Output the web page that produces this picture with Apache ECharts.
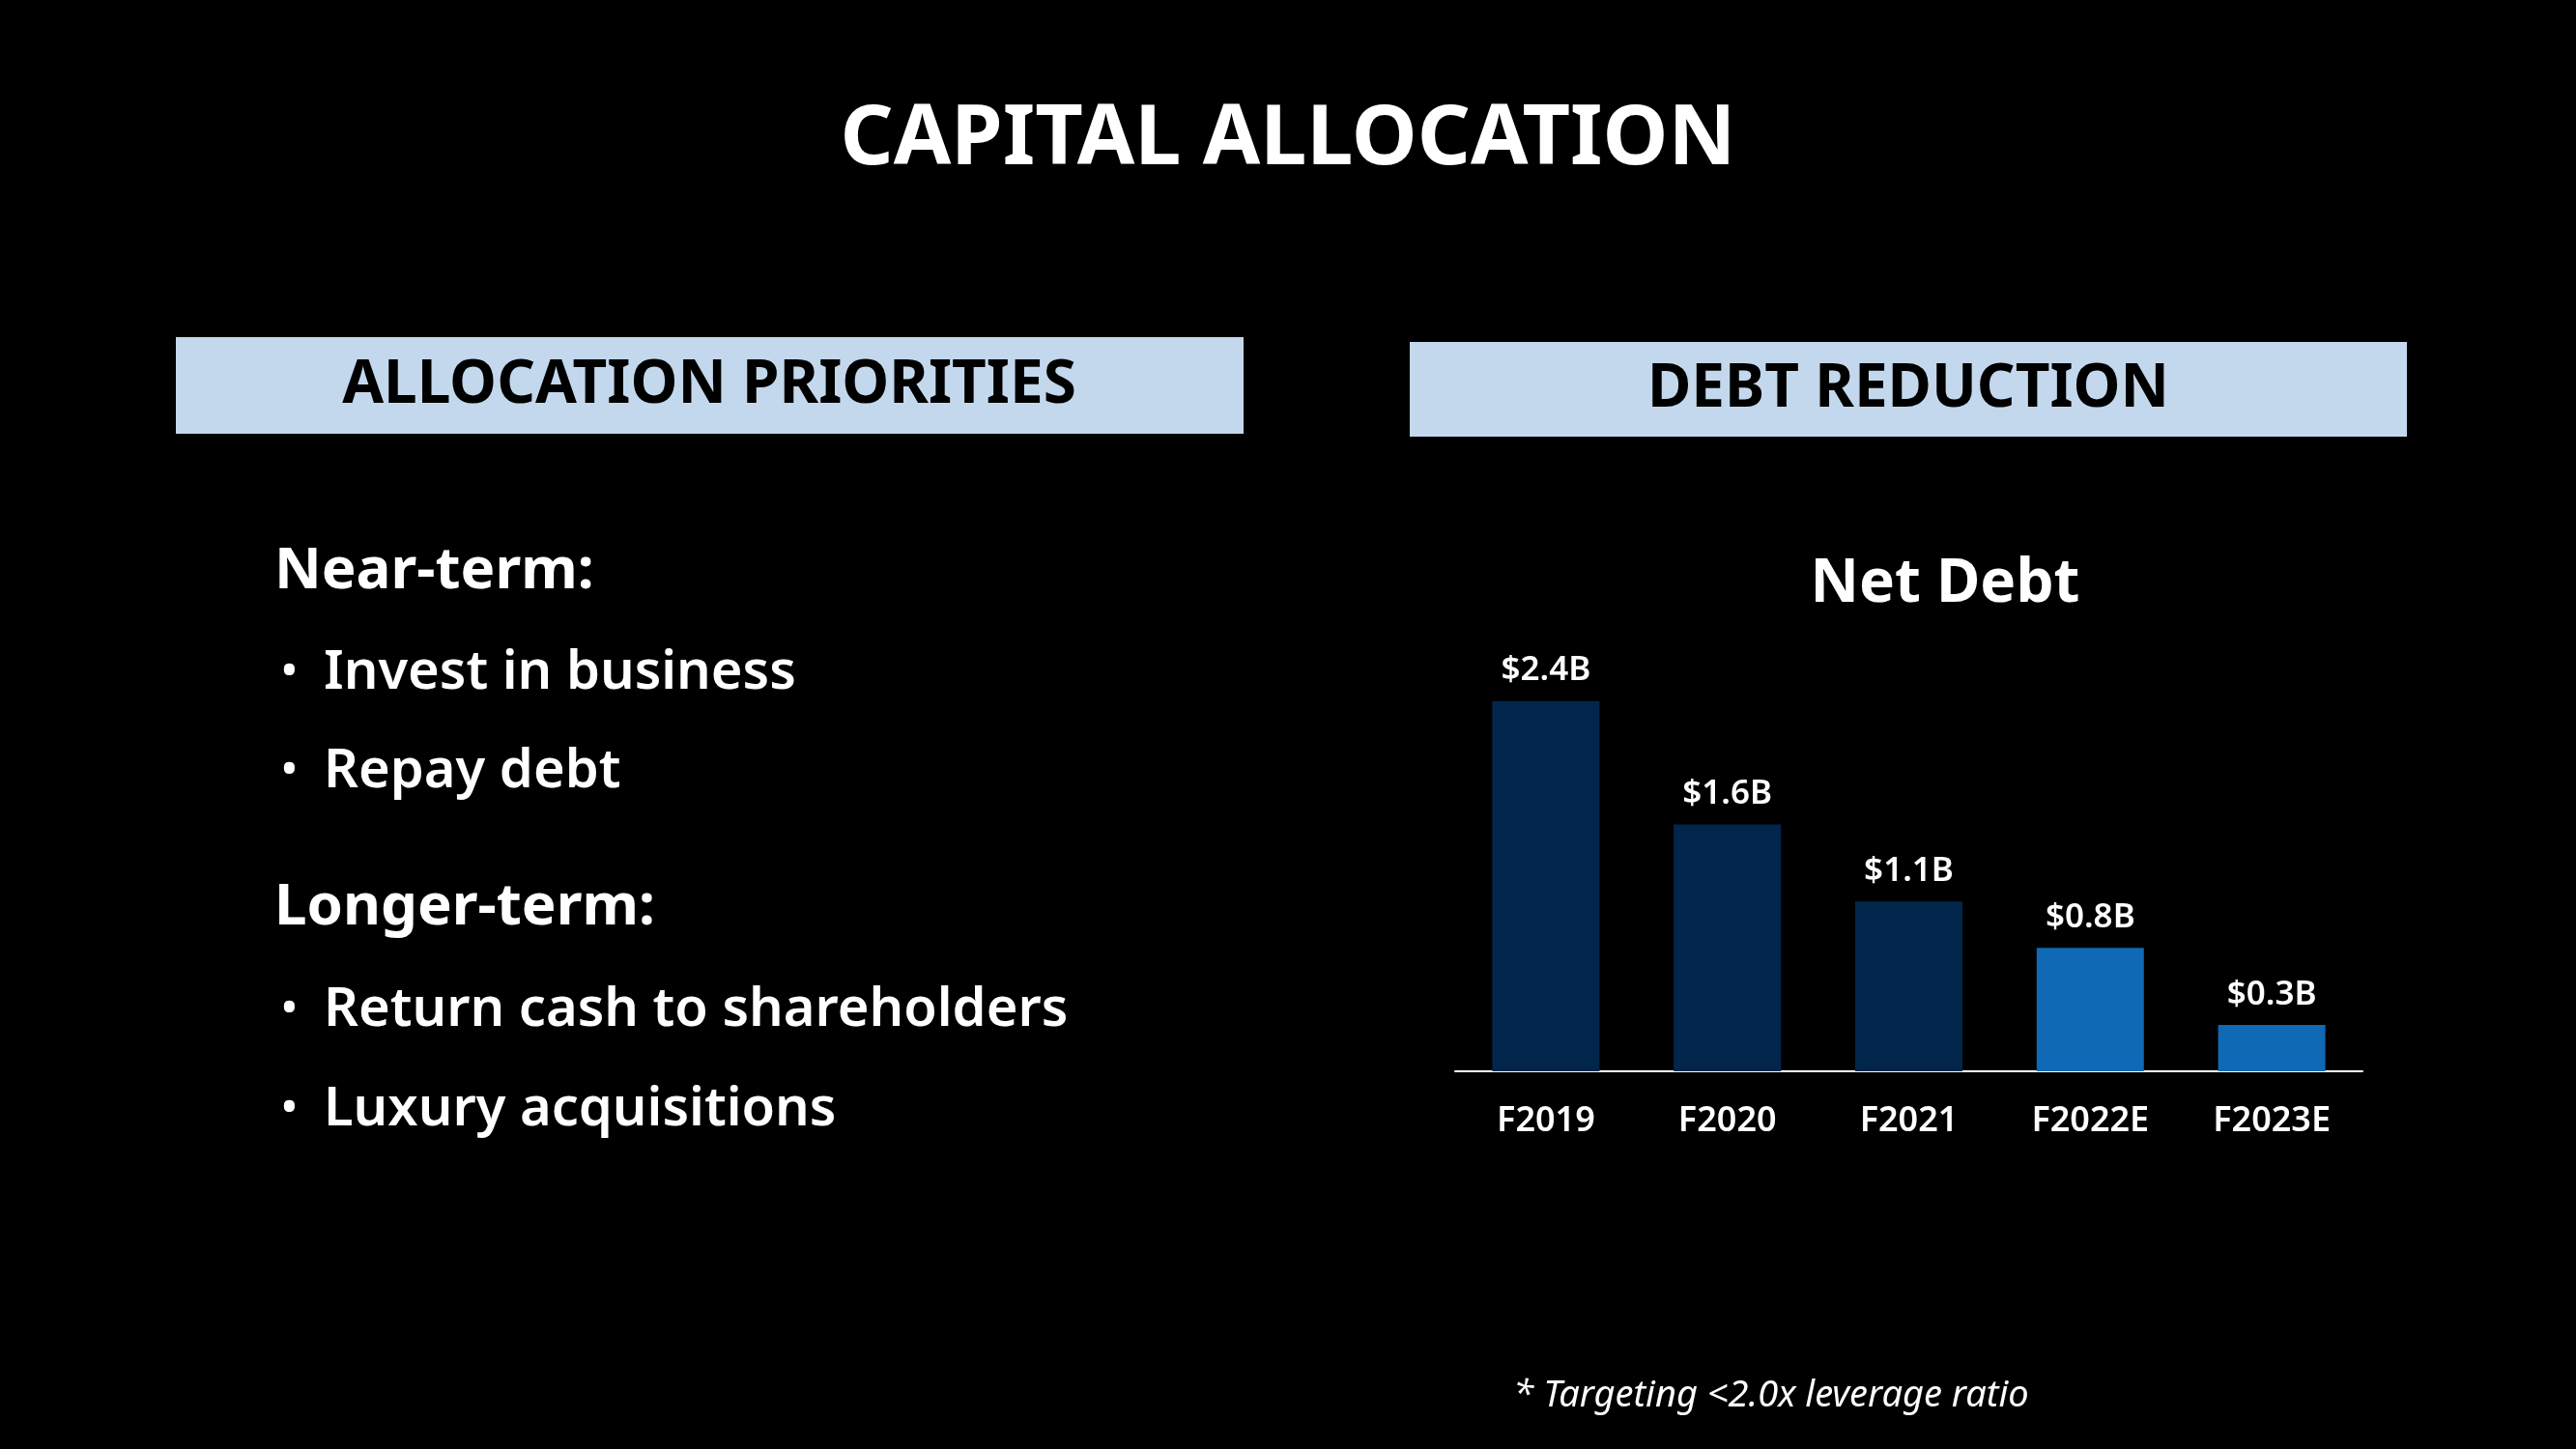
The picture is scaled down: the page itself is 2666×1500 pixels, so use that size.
<!DOCTYPE html>
<html>
<head>
<meta charset="utf-8">
<script src="https://cdn.jsdelivr.net/npm/echarts@6/dist/echarts.min.js"></script>
<style>
  html, body { margin: 0; padding: 0; background: #000; }
  #main { width: 2666px; height: 1500px; }
</style>
</head>
<body>
<div id="main"></div>
<script>
var categories = ['F2019', 'F2020', 'F2021', 'F2022E', 'F2023E'];
var netDebt = [2.4, 1.6, 1.1, 0.8, 0.3];
var isEstimate = [false, false, false, true, true];
var nearTerm = ['Invest in business', 'Repay debt'];
var longerTerm = ['Return cash to shareholders', 'Luxury acquisitions'];

var FONT = '"Noto Sans", "Open Sans", sans-serif';

function txt(x, y, text, size, opts) {
	opts = opts || {};
	return {
		type: 'text', x: x, y: y,
		style: {
			text: text, fill: opts.fill || '#fff',
			font: (opts.italic ? 'italic ' : '') + (opts.weight || 'bold') + ' ' + size + 'px ' + FONT,
			textAlign: opts.align || 'left', textVerticalAlign: 'middle'
		}
	};
}

var graphics = [
	txt(1333, 145, 'CAPITAL ALLOCATION', 86, {align: 'center'}),
	{type: 'rect', shape: {x: 182, y: 349, width: 1105, height: 100}, style: {fill: '#c3d8ec'}},
	txt(734, 399, 'ALLOCATION PRIORITIES', 62, {align: 'center', fill: '#000'}),
	{type: 'rect', shape: {x: 1459, y: 354, width: 1032, height: 98}, style: {fill: '#c3d8ec'}},
	txt(1975, 403, 'DEBT REDUCTION', 62, {align: 'center', fill: '#000'}),
	txt(284, 592, 'Near-term:', 60),
	txt(284, 940, 'Longer-term:', 60),
	txt(2013, 605, 'Net Debt', 62, {align: 'center'}),
	txt(1833, 1445, '* Targeting <2.0x leverage ratio', 38, {italic: true, weight: 'normal', align: 'center'})
];
var ys = [697, 799];
for (var i = 0; i < nearTerm.length; i++) {
	graphics.push(txt(290, ys[i], '•', 50, {weight: 'normal'}));
	graphics.push(txt(335, ys[i], nearTerm[i], 56, {weight: '600'}));
}
ys = [1046, 1149];
for (var j = 0; j < longerTerm.length; j++) {
	graphics.push(txt(290, ys[j], '•', 50, {weight: 'normal'}));
	graphics.push(txt(335, ys[j], longerTerm[j], 56, {weight: '600'}));
}

var barData = [];
for (var k = 0; k < netDebt.length; k++) {
	barData.push({value: netDebt[k], itemStyle: {color: isEstimate[k] ? '#0f69b4' : '#02264b'}});
}

var option = {
	backgroundColor: '#000',
	animation: false,
	grid: {left: 1506, width: 939, top: 630, height: 479},
	xAxis: {
		type: 'category', data: categories,
		axisLine: {lineStyle: {color: '#fff', width: 2}},
		axisTick: {show: false},
		axisLabel: {color: '#fff', fontSize: 36, fontFamily: FONT, fontWeight: '600', margin: 34}
	},
	yAxis: {type: 'value', min: 0, max: 3, show: false},
	series: [{
		type: 'bar', data: barData, barWidth: 111,
		label: {
			show: true, position: 'top', distance: 14, color: '#fff',
			fontSize: 35, fontFamily: FONT, fontWeight: '600',
			formatter: function (p) { return '$' + p.value.toFixed(1) + 'B'; }
		}
	}],
	graphic: graphics
};

var chart = echarts.init(document.getElementById('main'));
chart.setOption(option);
</script>
</body>
</html>
